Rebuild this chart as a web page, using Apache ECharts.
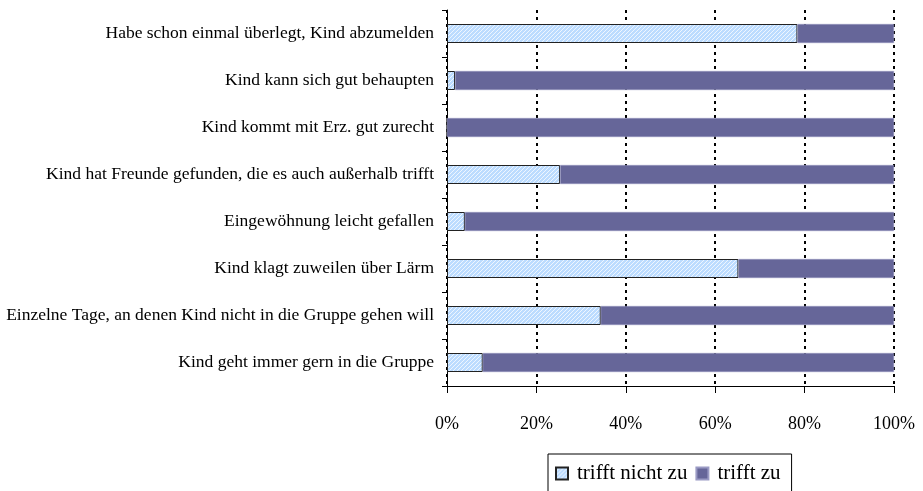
<!DOCTYPE html>
<html>
<head>
<meta charset="utf-8">
<script src="https://cdn.jsdelivr.net/npm/echarts@6/dist/echarts.min.js"></script>
<style>
  html, body { margin: 0; padding: 0; background: #fff; }
  #chart { width: 923px; height: 491px; }
</style>
</head>
<body>
<div id="chart"></div>
<script>
// categories, top to bottom
var categories = [
    'Habe schon einmal überlegt, Kind abzumelden',
    'Kind kann sich gut behaupten',
    'Kind kommt mit Erz. gut zurecht',
    'Kind hat Freunde gefunden, die es auch außerhalb trifft',
    'Eingewöhnung leicht gefallen',
    'Kind klagt zuweilen über Lärm',
    'Einzelne Tage, an denen Kind nicht in die Gruppe gehen will',
    'Kind geht immer gern in die Gruppe'
];
// percent values
var trifftNichtZu = [78.4, 1.8, 0, 25.3, 4.0, 65.2, 34.4, 8.0];
var trifftZu = [21.6, 98.2, 100, 74.7, 96.0, 34.8, 65.6, 92.0];
var xTicks = [0, 20, 40, 60, 80, 100];

// small hatch pattern for the light series
function makePattern() {
    var c = document.createElement('canvas');
    c.width = 4; c.height = 4;
    var ctx = c.getContext('2d');
    ctx.fillStyle = '#bcdcff';
    ctx.fillRect(0, 0, 4, 4);
    ctx.fillStyle = '#eef6ff';
    for (var i = 0; i < 4; i++) {
        ctx.fillRect(i, 3 - i, 1, 1);
    }
    return c;
}
var hatch = { image: makePattern(), repeat: 'repeat' };

var serif = '"Liberation Serif", "Times New Roman", serif';

var chart = echarts.init(document.getElementById('chart'));
var option = {
    animation: false,
    textStyle: { fontFamily: serif, color: '#000' },
    grid: { left: 447, right: 29, top: 10, bottom: 105, containLabel: false },
    legend: {
        left: 548,
        top: 454,
        padding: [9, 11, 8, 7],
        borderColor: '#000',
        borderWidth: 1,
        itemWidth: 12,
        itemHeight: 12,
        itemGap: 8,
        icon: 'rect',
        textStyle: { fontFamily: serif, fontSize: 21, color: '#000', padding: [0, 0, 0, 4] },
        data: ['trifft nicht zu', 'trifft zu']
    },
    xAxis: {
        type: 'value',
        min: 0,
        max: 100,
        interval: 20,
        axisLine: { show: true, lineStyle: { color: '#000', width: 1 } },
        axisTick: { show: true, length: 7, inside: false, lineStyle: { color: '#000' } },
        axisLabel: {
            margin: 29,
            fontSize: 18,
            color: '#000',
            fontFamily: serif,
            formatter: function (v) { return xTicks.indexOf(v) >= 0 ? v + '%' : ''; }
        },
        splitLine: { show: true, lineStyle: { color: '#000', width: 2, type: [3, 4] } }
    },
    yAxis: {
        type: 'category',
        inverse: true,
        data: categories,
        axisLine: { show: true, lineStyle: { color: '#000', width: 1 } },
        axisTick: { show: true, length: 5, lineStyle: { color: '#000' } },
        axisLabel: { margin: 13, fontSize: 17.5, color: '#000', fontFamily: serif },
        splitLine: { show: false }
    },
    series: [
        {
            name: 'trifft nicht zu',
            type: 'bar',
            stack: 'all',
            barWidth: 19,
            data: trifftNichtZu,
            itemStyle: { color: hatch, borderColor: '#222', borderWidth: 1 }
        },
        {
            name: 'trifft zu',
            type: 'bar',
            stack: 'all',
            barWidth: 19,
            data: trifftZu,
            itemStyle: { color: '#666699', borderColor: '#9a9ac4', borderWidth: 0.5 }
        }
    ]
};
chart.setOption(option);
</script>
</body>
</html>
